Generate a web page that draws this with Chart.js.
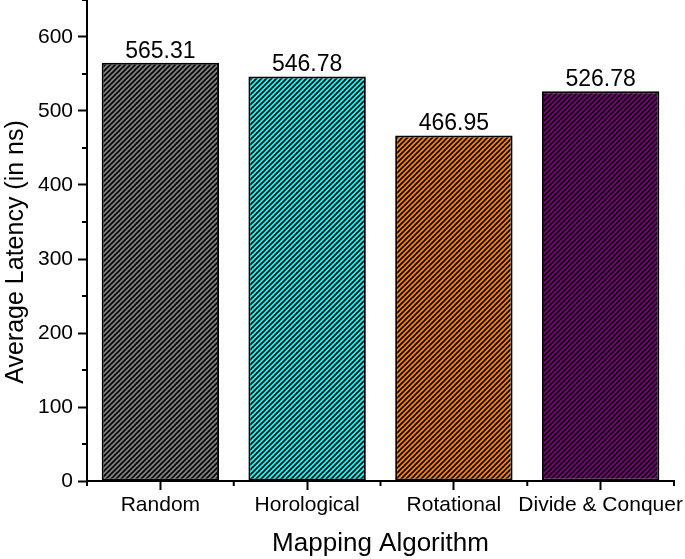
<!DOCTYPE html>
<html>
<head>
<meta charset="utf-8">
<script src="https://cdn.jsdelivr.net/npm/chart.js@4/dist/chart.umd.min.js"></script>
<style>
html,body{margin:0;padding:0;background:#fff;}
#wrap{width:685px;height:559px;}
</style>
</head>
<body>
<div id="wrap"><canvas id="c" width="685" height="559"></canvas></div>
<script>
const categories = ["Random", "Horological", "Rotational", "Divide & Conquer"];
const latency = [565.31, 546.78, 466.95, 526.78];
const valueLabels = ["565.31", "546.78", "466.95", "526.78"];
const barColors = ["#808080", "#00FFFF", "#FF8000", "#800080"];
const yTicks = [0, 100, 200, 300, 400, 500, 600];
const yMinorTicks = [50, 150, 250, 350, 450, 550, 650];
const yTitle = "Average Latency (in ns)";
const xTitle = "Mapping Algorithm";

const FONT = "'Liberation Sans', Arial, sans-serif";

function hatch(color) {
  const s = 5;
  const c = document.createElement('canvas');
  c.width = s; c.height = s;
  const g = c.getContext('2d');
  g.fillStyle = color;
  g.fillRect(0, 0, s, s);
  g.strokeStyle = '#000';
  g.lineWidth = 1.6;
  g.beginPath();
  g.moveTo(-1, s + 1); g.lineTo(s + 1, -1);
  g.moveTo(-1, 1); g.lineTo(1, -1);
  g.moveTo(s - 1, s + 1); g.lineTo(s + 1, s - 1);
  g.stroke();
  return g.createPattern(c, 'repeat');
}

const extras = {
  id: 'extras',
  afterDraw(chart) {
    const ctx = chart.ctx;
    const x = chart.scales.x, y = chart.scales.y;
    ctx.save();
    ctx.strokeStyle = '#000';
    ctx.lineWidth = 2;
    yMinorTicks.forEach(v => {
      const py = y.getPixelForValue(v);
      ctx.beginPath();
      ctx.moveTo(x.left - 5, py); ctx.lineTo(x.left, py);
      ctx.stroke();
    });
    for (let i = 0; i <= categories.length; i++) {
      const px = x.getPixelForValue(i - 0.5);
      ctx.beginPath();
      ctx.moveTo(px, y.bottom); ctx.lineTo(px, y.bottom + 5);
      ctx.stroke();
    }
    const meta = chart.getDatasetMeta(0);
    ctx.fillStyle = '#000';
    ctx.font = "23px " + FONT;
    ctx.textAlign = 'center';
    ctx.textBaseline = 'alphabetic';
    meta.data.forEach((bar, i) => {
      ctx.fillText(valueLabels[i], bar.x, bar.y - 5);
    });
    // y axis title
    ctx.font = "25px " + FONT;
    ctx.textBaseline = 'middle';
    ctx.translate(16, 252);
    ctx.rotate(-Math.PI / 2);
    ctx.fillText(yTitle, 0, 0);
    ctx.restore();
  }
};

new Chart(document.getElementById('c'), {
  type: 'bar',
  data: {
    labels: categories,
    datasets: [{
      data: latency,
      backgroundColor: barColors.map(hatch),
      borderColor: '#000',
      borderWidth: 2,
      borderSkipped: false,
      barPercentage: 0.8,
      categoryPercentage: 1.0
    }]
  },
  options: {
    responsive: false,
    animation: false,
    devicePixelRatio: 1,
    layout: { padding: { top: 0, right: 11, left: 0, bottom: 0 } },
    plugins: { legend: { display: false }, tooltip: { enabled: false } },
    scales: {
      x: {
        offset: true,
        grid: { offset: false, drawOnChartArea: false, drawTicks: true, tickLength: 9, tickWidth: 2, tickColor: '#000' },
        border: { color: '#000', width: 2 },
        ticks: { color: '#000', font: { family: FONT, size: 21 }, padding: 3, maxRotation: 0, autoSkip: false },
        title: { display: true, text: xTitle, color: '#000', font: { family: FONT, size: 26 }, padding: { top: 3, bottom: 0 } },
        afterFit(scale) { scale.height = 78; scale.paddingLeft = 0; scale.paddingRight = 0; }
      },
      y: {
        min: 0, max: 650,
        afterBuildTicks(scale) { scale.ticks = yTicks.map(v => ({ value: v })); },
        grid: { drawOnChartArea: false, drawTicks: true, tickLength: 9, tickWidth: 2, tickColor: '#000' },
        border: { color: '#000', width: 2 },
        ticks: { color: '#000', font: { family: FONT, size: 21 }, padding: 5 },
        title: { display: false },
        afterFit(scale) { scale.width = 87; scale.paddingTop = 0; scale.paddingBottom = 0; }
      }
    }
  },
  plugins: [extras]
});
</script>
</body>
</html>
